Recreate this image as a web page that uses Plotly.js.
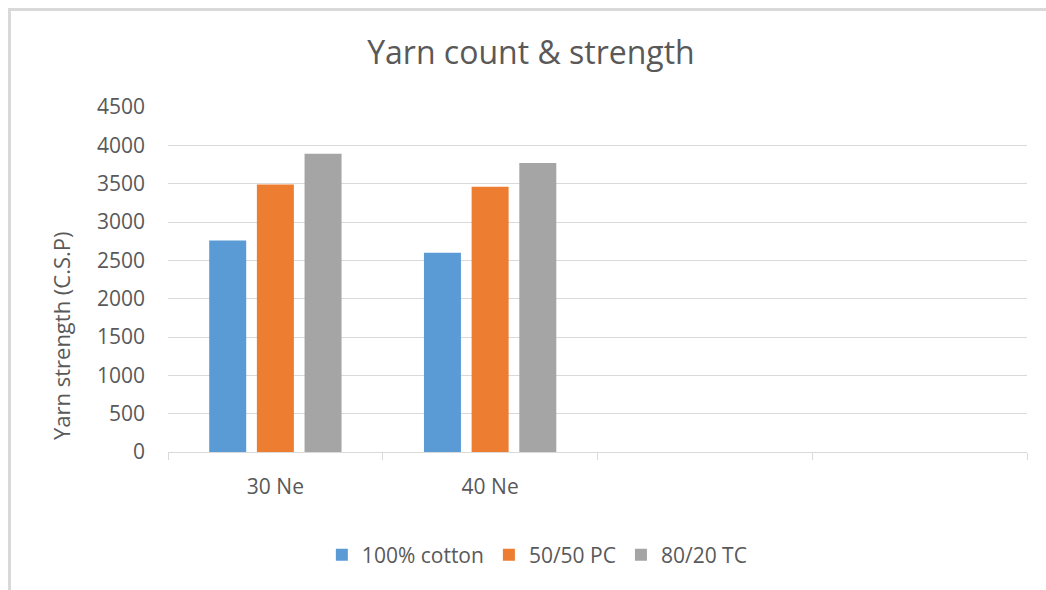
<!DOCTYPE html>
<html>
<head>
<meta charset="utf-8">
<script src="https://cdn.plot.ly/plotly-3.0.1.min.js"></script>
<style>
  html, body { margin: 0; padding: 0; background: #ffffff; }
  #chart { position: absolute; left: 0; top: 0; width: 1046px; height: 590px; }
  #frame { position: absolute; left: 8px; top: 8px; width: 1100px; height: 700px;
           border-left: 3px solid #d9d9d9; border-top: 3px solid #d9d9d9;
           pointer-events: none; z-index: 10; }
</style>
</head>
<body>
<div id="chart"></div>
<div id="frame"></div>
<script>
// Categories (the last two slots are empty in the original chart)
const categories = ['30 Ne', '40 Ne', '\u00a0', '\u00a0\u00a0'];
const seriesNames = ['100% cotton', '50/50 PC', '80/20 TC'];
const cotton100 = [2760, 2600, null, null];
const pc5050 = [3490, 3460, null, null];
const tc8020 = [3890, 3770, null, null];
const yTicks = [0, 500, 1000, 1500, 2000, 2500, 3000, 3500, 4000, 4500];
const colors = ['#5b9bd5', '#ed7d31', '#a5a5a5'];
const seriesValues = [cotton100, pc5050, tc8020];

const FONT = 'Open Sans, sans-serif';
const TXT = '#595959';

const traces = seriesNames.map((name, i) => ({
  type: 'bar',
  name: name,
  x: categories,
  y: seriesValues[i],
  marker: { color: colors[i] },
  hoverinfo: 'x+y+name'
}));

const layout = {
  width: 1046,
  height: 590,
  margin: { l: 168, r: 19, t: 107, b: 138 },
  paper_bgcolor: '#ffffff',
  plot_bgcolor: '#ffffff',
  font: { family: FONT, color: TXT, size: 21 },
  title: {
    text: 'Yarn count & strength',
    font: { family: FONT, size: 32, color: TXT },
    xref: 'container', x: 0.5076, xanchor: 'center',
    yref: 'container', y: 0.91, yanchor: 'middle'
  },
  barmode: 'group',
  bargap: 0.334,
  bargroupgap: 0.224,
  xaxis: {
    type: 'category',
    categoryorder: 'array',
    categoryarray: categories,
    range: [-0.5, 3.5],
    showgrid: false,
    zeroline: false,
    showline: true,
    linecolor: '#d9d9d9',
    linewidth: 1,
    ticks: 'outside',
    tickson: 'boundaries',
    ticklen: 7,
    tickcolor: '#d9d9d9',
    tickwidth: 1,
    ticklabelstandoff: 16,
    tickfont: { family: FONT, size: 21, color: TXT },
    fixedrange: true
  },
  yaxis: {
    range: [0, 4500],
    tickvals: yTicks,
    ticktext: yTicks.map(String),
    showgrid: true,
    gridcolor: '#d9d9d9',
    gridwidth: 1,
    zeroline: false,
    showline: false,
    ticks: '',
    ticklabelstandoff: 22,
    tickfont: { family: FONT, size: 21, color: TXT },
    fixedrange: true
  },
  showlegend: true,
  legend: {
    orientation: 'h',
    x: 0.43, xanchor: 'center',
    y: -0.2986, yanchor: 'middle',
    font: { family: FONT, size: 21, color: TXT },
    itemwidth: 30,
    traceorder: 'normal',
    bgcolor: 'rgba(0,0,0,0)'
  },
  annotations: [{
    text: 'Yarn strength (C.S.P)',
    textangle: -90,
    xref: 'paper', yref: 'paper',
    x: -0.1246, y: 0.339,
    xanchor: 'center', yanchor: 'middle',
    showarrow: false,
    font: { family: FONT, size: 22, color: TXT }
  }]
};

Plotly.newPlot('chart', traces, layout, { displayModeBar: false, staticPlot: true });
</script>
</body>
</html>
